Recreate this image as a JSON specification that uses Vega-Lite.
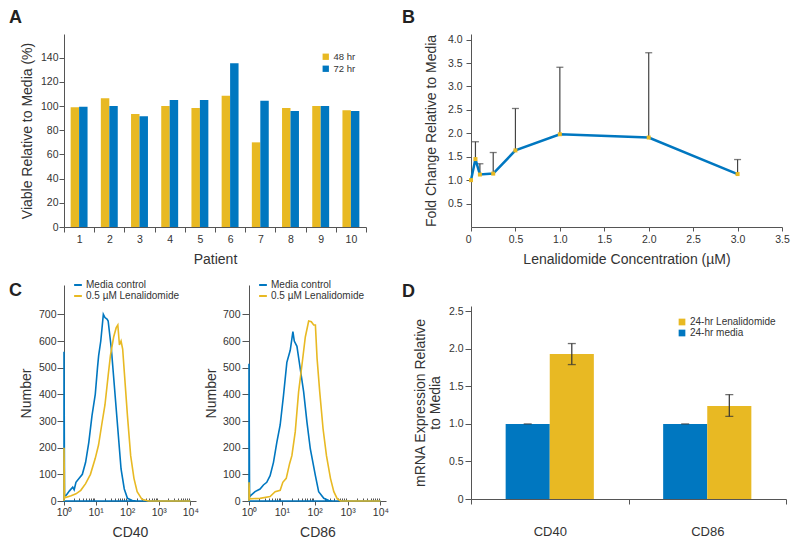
{
  "$schema": "https://vega.github.io/schema/vega-lite/v6.json",
  "background": "white",
  "padding": {"left": 9, "top": 9, "right": 2, "bottom": 2},
  "config": {
    "view": {"stroke": null},
    "axis": {
      "labelFont": "Liberation Sans", "labelFontSize": 10.5, "labelColor": "#333",
      "titleFont": "Liberation Sans", "titleFontSize": 14, "titleColor": "#333", "titleFontWeight": "normal",
      "domainColor": "#555", "tickColor": "#555", "grid": false, "labelFlush": false, "labelOverlap": false, "labelBound": false
    },
    "legend": {"labelFont": "Liberation Sans", "labelColor": "#333", "title": null, "padding": 0, "offset": 0},
    "title": {"font": "Liberation Sans", "fontSize": 18, "fontWeight": "bold", "color": "#222", "anchor": "start", "frame": "group"}
  },
  "spacing": 13,
  "resolve": {"scale": {"color": "independent"}, "legend": {"color": "independent"}},
  "hconcat": [
    {
      "spacing": 13,
      "resolve": {"scale": {"color": "independent"}, "legend": {"color": "independent"}},
      "vconcat": [
        {
          "width": 302, "height": 193,
          "title": {"text": "A", "dx": -55, "offset": 7},
          "data": {"values": [
            {"patient": 1, "time": "48 hr", "v": 99}, {"patient": 1, "time": "72 hr", "v": 99.5},
            {"patient": 2, "time": "48 hr", "v": 106.5}, {"patient": 2, "time": "72 hr", "v": 100},
            {"patient": 3, "time": "48 hr", "v": 93.5}, {"patient": 3, "time": "72 hr", "v": 91.5},
            {"patient": 4, "time": "48 hr", "v": 100}, {"patient": 4, "time": "72 hr", "v": 105},
            {"patient": 5, "time": "48 hr", "v": 98.5}, {"patient": 5, "time": "72 hr", "v": 105},
            {"patient": 6, "time": "48 hr", "v": 108.5}, {"patient": 6, "time": "72 hr", "v": 135.5},
            {"patient": 7, "time": "48 hr", "v": 70}, {"patient": 7, "time": "72 hr", "v": 104.5},
            {"patient": 8, "time": "48 hr", "v": 98.5}, {"patient": 8, "time": "72 hr", "v": 96},
            {"patient": 9, "time": "48 hr", "v": 100}, {"patient": 9, "time": "72 hr", "v": 100},
            {"patient": 10, "time": "48 hr", "v": 96.5}, {"patient": 10, "time": "72 hr", "v": 96}
          ]},
          "encoding": {
            "x": {"field": "patient", "type": "ordinal", "scale": {"paddingInner": 0, "paddingOuter": 0},
                  "axis": {"title": "Patient", "labelAngle": 0, "tickBand": "extent", "tickSize": 5, "labelPadding": 2, "titlePadding": 8}},
            "y": {"field": "v", "type": "quantitative", "scale": {"domain": [0, 159.6], "nice": false},
                  "axis": {"values": [0, 20, 40, 60, 80, 100, 120, 140], "title": "Viable Relative to Media (%)", "tickSize": 5, "labelPadding": 1, "titlePadding": 6, "labelOverlap": false}},
            "color": {"field": "time", "type": "nominal", "scale": {"domain": ["48 hr", "72 hr"], "range": ["#E8B923", "#0077C0"]},
                      "legend": {"orient": "none", "legendX": 257, "legendY": 18, "symbolType": "square", "symbolSize": 40, "symbolStrokeWidth": 0, "labelFontSize": 9.5, "rowPadding": 1, "labelOffset": 3}}
          },
          "layer": [
            {
              "transform": [{"filter": "datum.time == '48 hr'"}],
              "mark": {"type": "bar", "width": {"band": 0.28}, "xOffset": -4.23}
            },
            {
              "transform": [{"filter": "datum.time == '72 hr'"}],
              "mark": {"type": "bar", "width": {"band": 0.28}, "xOffset": 4.23}
            }
          ]
        },
        {
          "spacing": 5,
          "resolve": {"scale": {"color": "independent"}, "legend": {"color": "independent"}},
          "hconcat": [
            {
              "width": 132, "height": 216,
              "title": {"text": "C", "dx": -55, "offset": -20},
              "data": {"values": [
                {"series": "Media control", "i": 0, "x": 10000, "n": 0},
                {"series": "Media control", "i": 1, "x": 1, "n": 0},
                {"series": "Media control", "i": 2, "x": 1, "n": 560},
                {"series": "Media control", "i": 3, "x": 1.04, "n": 18},
                {"series": "Media control", "i": 4, "x": 1.18, "n": 22},
                {"series": "Media control", "i": 5, "x": 1.49, "n": 38},
                {"series": "Media control", "i": 6, "x": 1.89, "n": 52},
                {"series": "Media control", "i": 7, "x": 2.1, "n": 42},
                {"series": "Media control", "i": 8, "x": 2.39, "n": 70},
                {"series": "Media control", "i": 9, "x": 3.02, "n": 85},
                {"series": "Media control", "i": 10, "x": 3.81, "n": 100},
                {"series": "Media control", "i": 11, "x": 4.83, "n": 145},
                {"series": "Media control", "i": 12, "x": 6.1, "n": 220},
                {"series": "Media control", "i": 13, "x": 7.7, "n": 320},
                {"series": "Media control", "i": 14, "x": 9.77, "n": 400},
                {"series": "Media control", "i": 15, "x": 11.5, "n": 500},
                {"series": "Media control", "i": 16, "x": 12.5, "n": 545},
                {"series": "Media control", "i": 17, "x": 14.6, "n": 600},
                {"series": "Media control", "i": 18, "x": 17.6, "n": 700},
                {"series": "Media control", "i": 19, "x": 19.8, "n": 688},
                {"series": "Media control", "i": 20, "x": 23, "n": 682},
                {"series": "Media control", "i": 21, "x": 25, "n": 675},
                {"series": "Media control", "i": 22, "x": 31.6, "n": 570},
                {"series": "Media control", "i": 23, "x": 40, "n": 420},
                {"series": "Media control", "i": 24, "x": 50.6, "n": 270},
                {"series": "Media control", "i": 25, "x": 64, "n": 120},
                {"series": "Media control", "i": 26, "x": 81, "n": 45},
                {"series": "Media control", "i": 27, "x": 102, "n": 10},
                {"series": "Media control", "i": 28, "x": 145, "n": 2},
                {"series": "Media control", "i": 29, "x": 200, "n": 0},
                {"series": "0.5 µM Lenalidomide", "i": 0, "x": 1, "n": 0},
                {"series": "0.5 µM Lenalidomide", "i": 1, "x": 1, "n": 200},
                {"series": "0.5 µM Lenalidomide", "i": 2, "x": 1.04, "n": 12},
                {"series": "0.5 µM Lenalidomide", "i": 3, "x": 1.68, "n": 20},
                {"series": "0.5 µM Lenalidomide", "i": 4, "x": 2.39, "n": 27},
                {"series": "0.5 µM Lenalidomide", "i": 5, "x": 3.4, "n": 40},
                {"series": "0.5 µM Lenalidomide", "i": 6, "x": 4.83, "n": 65},
                {"series": "0.5 µM Lenalidomide", "i": 7, "x": 6.87, "n": 100},
                {"series": "0.5 µM Lenalidomide", "i": 8, "x": 9.77, "n": 160},
                {"series": "0.5 µM Lenalidomide", "i": 9, "x": 12.4, "n": 210},
                {"series": "0.5 µM Lenalidomide", "i": 10, "x": 15.6, "n": 285},
                {"series": "0.5 µM Lenalidomide", "i": 11, "x": 19.8, "n": 360},
                {"series": "0.5 µM Lenalidomide", "i": 12, "x": 25, "n": 470},
                {"series": "0.5 µM Lenalidomide", "i": 13, "x": 29.5, "n": 545},
                {"series": "0.5 µM Lenalidomide", "i": 14, "x": 37.3, "n": 615},
                {"series": "0.5 µM Lenalidomide", "i": 15, "x": 45, "n": 650},
                {"series": "0.5 µM Lenalidomide", "i": 16, "x": 50.6, "n": 660},
                {"series": "0.5 µM Lenalidomide", "i": 17, "x": 56.9, "n": 585},
                {"series": "0.5 µM Lenalidomide", "i": 18, "x": 64, "n": 600},
                {"series": "0.5 µM Lenalidomide", "i": 19, "x": 72, "n": 570},
                {"series": "0.5 µM Lenalidomide", "i": 20, "x": 81, "n": 485},
                {"series": "0.5 µM Lenalidomide", "i": 21, "x": 102, "n": 320},
                {"series": "0.5 µM Lenalidomide", "i": 22, "x": 129, "n": 170},
                {"series": "0.5 µM Lenalidomide", "i": 23, "x": 164, "n": 85},
                {"series": "0.5 µM Lenalidomide", "i": 24, "x": 207, "n": 35},
                {"series": "0.5 µM Lenalidomide", "i": 25, "x": 294, "n": 6},
                {"series": "0.5 µM Lenalidomide", "i": 26, "x": 471, "n": 0},
                {"series": "0.5 µM Lenalidomide", "i": 27, "x": 10000, "n": 0}
              ]},
              "mark": {"type": "line", "strokeWidth": 1.6},
              "encoding": {
                "x": {"field": "x", "type": "quantitative", "scale": {"type": "log", "domain": [1, 15100], "nice": false},
                      "axis": {"values": [1, 2, 3, 4, 5, 6, 7, 8, 9, 10, 20, 30, 40, 50, 60, 70, 80, 90, 100, 200, 300, 400, 500, 600, 700, 800, 900, 1000, 2000, 3000, 4000, 5000, 6000, 7000, 8000, 9000, 10000],
                               "labelExpr": "datum.value == 1 ? '10⁰' : datum.value == 10 ? '10¹' : datum.value == 100 ? '10²' : datum.value == 1000 ? '10³' : datum.value == 10000 ? '10⁴' : ''",
                               "tickSize": {"condition": {"test": "indexof([1, 10, 100, 1000, 10000], datum.value) >= 0", "value": 4}, "value": -3},
                               "title": "CD40", "labelPadding": 2, "titlePadding": 8, "labelOverlap": false}},
                "y": {"field": "n", "type": "quantitative", "scale": {"domain": [0, 810], "nice": false},
                      "axis": {"values": [0, 100, 200, 300, 400, 500, 600, 700], "title": "Number", "tickSize": 7, "labelPadding": 1, "titlePadding": 5, "labelOverlap": false}},
                "color": {"field": "series", "type": "nominal", "scale": {"domain": ["Media control", "0.5 µM Lenalidomide"], "range": ["#0077C0", "#E8B923"]},
                          "legend": {"orient": "none", "legendX": 9, "legendY": -5, "symbolType": "stroke", "symbolSize": 60, "symbolStrokeWidth": 2, "labelFontSize": 10, "rowPadding": 1, "labelOffset": 3}},
                "order": {"field": "i", "type": "quantitative"}
              }
            },
            {
              "width": 137, "height": 216,
              "data": {"values": [
                {"series": "Media control", "i": 0, "x": 10000, "n": 0},
                {"series": "Media control", "i": 1, "x": 1, "n": 0},
                {"series": "Media control", "i": 2, "x": 1, "n": 515},
                {"series": "Media control", "i": 3, "x": 1.04, "n": 15},
                {"series": "Media control", "i": 4, "x": 1.12, "n": 20},
                {"series": "Media control", "i": 5, "x": 1.53, "n": 35},
                {"series": "Media control", "i": 6, "x": 2.17, "n": 45},
                {"series": "Media control", "i": 7, "x": 2.75, "n": 60},
                {"series": "Media control", "i": 8, "x": 3.47, "n": 70},
                {"series": "Media control", "i": 9, "x": 4.39, "n": 95},
                {"series": "Media control", "i": 10, "x": 5.56, "n": 145},
                {"series": "Media control", "i": 11, "x": 7.03, "n": 220},
                {"series": "Media control", "i": 12, "x": 8.89, "n": 285},
                {"series": "Media control", "i": 13, "x": 11.2, "n": 395},
                {"series": "Media control", "i": 14, "x": 14.2, "n": 520},
                {"series": "Media control", "i": 15, "x": 18, "n": 565},
                {"series": "Media control", "i": 16, "x": 21.7, "n": 635},
                {"series": "Media control", "i": 17, "x": 23.9, "n": 600},
                {"series": "Media control", "i": 18, "x": 28.8, "n": 580},
                {"series": "Media control", "i": 19, "x": 36.4, "n": 495},
                {"series": "Media control", "i": 20, "x": 46, "n": 410},
                {"series": "Media control", "i": 21, "x": 58.2, "n": 295},
                {"series": "Media control", "i": 22, "x": 73.6, "n": 195},
                {"series": "Media control", "i": 23, "x": 105, "n": 95},
                {"series": "Media control", "i": 24, "x": 132, "n": 35},
                {"series": "Media control", "i": 25, "x": 189, "n": 10},
                {"series": "Media control", "i": 26, "x": 268, "n": 2},
                {"series": "Media control", "i": 27, "x": 350, "n": 0},
                {"series": "0.5 µM Lenalidomide", "i": 0, "x": 1, "n": 0},
                {"series": "0.5 µM Lenalidomide", "i": 1, "x": 1, "n": 70},
                {"series": "0.5 µM Lenalidomide", "i": 2, "x": 1.04, "n": 8},
                {"series": "0.5 µM Lenalidomide", "i": 3, "x": 2.17, "n": 10},
                {"series": "0.5 µM Lenalidomide", "i": 4, "x": 4.39, "n": 17},
                {"series": "0.5 µM Lenalidomide", "i": 5, "x": 6.25, "n": 35},
                {"series": "0.5 µM Lenalidomide", "i": 6, "x": 8.89, "n": 40},
                {"series": "0.5 µM Lenalidomide", "i": 7, "x": 10.7, "n": 70},
                {"series": "0.5 µM Lenalidomide", "i": 8, "x": 13.6, "n": 85},
                {"series": "0.5 µM Lenalidomide", "i": 9, "x": 17.2, "n": 140},
                {"series": "0.5 µM Lenalidomide", "i": 10, "x": 20.2, "n": 170},
                {"series": "0.5 µM Lenalidomide", "i": 11, "x": 25.6, "n": 260},
                {"series": "0.5 µM Lenalidomide", "i": 12, "x": 32.4, "n": 410},
                {"series": "0.5 µM Lenalidomide", "i": 13, "x": 40.9, "n": 510},
                {"series": "0.5 µM Lenalidomide", "i": 14, "x": 51.8, "n": 615},
                {"series": "0.5 µM Lenalidomide", "i": 15, "x": 65.5, "n": 675},
                {"series": "0.5 µM Lenalidomide", "i": 16, "x": 79, "n": 672},
                {"series": "0.5 µM Lenalidomide", "i": 17, "x": 93.1, "n": 660},
                {"series": "0.5 µM Lenalidomide", "i": 18, "x": 105, "n": 660},
                {"series": "0.5 µM Lenalidomide", "i": 19, "x": 118, "n": 535},
                {"series": "0.5 µM Lenalidomide", "i": 20, "x": 142, "n": 410},
                {"series": "0.5 µM Lenalidomide", "i": 21, "x": 180, "n": 270},
                {"series": "0.5 µM Lenalidomide", "i": 22, "x": 228, "n": 170},
                {"series": "0.5 µM Lenalidomide", "i": 23, "x": 302, "n": 85},
                {"series": "0.5 µM Lenalidomide", "i": 24, "x": 382, "n": 35},
                {"series": "0.5 µM Lenalidomide", "i": 25, "x": 483, "n": 9},
                {"series": "0.5 µM Lenalidomide", "i": 26, "x": 611, "n": 0},
                {"series": "0.5 µM Lenalidomide", "i": 27, "x": 10000, "n": 0}
              ]},
              "mark": {"type": "line", "strokeWidth": 1.6},
              "encoding": {
                "x": {"field": "x", "type": "quantitative", "scale": {"type": "log", "domain": [1, 14800], "nice": false},
                      "axis": {"values": [1, 2, 3, 4, 5, 6, 7, 8, 9, 10, 20, 30, 40, 50, 60, 70, 80, 90, 100, 200, 300, 400, 500, 600, 700, 800, 900, 1000, 2000, 3000, 4000, 5000, 6000, 7000, 8000, 9000, 10000],
                               "labelExpr": "datum.value == 1 ? '10⁰' : datum.value == 10 ? '10¹' : datum.value == 100 ? '10²' : datum.value == 1000 ? '10³' : datum.value == 10000 ? '10⁴' : ''",
                               "tickSize": {"condition": {"test": "indexof([1, 10, 100, 1000, 10000], datum.value) >= 0", "value": 4}, "value": -3},
                               "title": "CD86", "labelPadding": 2, "titlePadding": 8, "labelOverlap": false}},
                "y": {"field": "n", "type": "quantitative", "scale": {"domain": [0, 810], "nice": false},
                      "axis": {"values": [0, 100, 200, 300, 400, 500, 600, 700], "title": "Number", "tickSize": 7, "labelPadding": 2, "titlePadding": 4, "labelOverlap": false}},
                "color": {"field": "series", "type": "nominal", "scale": {"domain": ["Media control", "0.5 µM Lenalidomide"], "range": ["#0077C0", "#E8B923"]},
                          "legend": {"orient": "none", "legendX": 9, "legendY": -5, "symbolType": "stroke", "symbolSize": 60, "symbolStrokeWidth": 2, "labelFontSize": 10, "rowPadding": 1, "labelOffset": 3}},
                "order": {"field": "i", "type": "quantitative"}
              }
            }
          ]
        }
      ]
    },
    {
      "spacing": 16,
      "resolve": {"scale": {"color": "independent"}, "legend": {"color": "independent"}},
      "vconcat": [
        {
          "width": 311, "height": 193,
          "title": {"text": "B", "dx": -69, "offset": 7},
          "data": {"values": [
            {"c": 0, "f": 1.0, "u": null},
            {"c": 0.05, "f": 1.45, "u": 1.82},
            {"c": 0.1, "f": 1.12, "u": 1.35},
            {"c": 0.25, "f": 1.14, "u": 1.59},
            {"c": 0.5, "f": 1.635, "u": 2.53},
            {"c": 1, "f": 1.98, "u": 3.41},
            {"c": 2, "f": 1.91, "u": 3.72},
            {"c": 3, "f": 1.13, "u": 1.44}
          ]},
          "encoding": {
            "x": {"field": "c", "type": "quantitative", "scale": {"domain": [0, 3.5], "nice": false},
                  "axis": {"values": [0, 0.5, 1, 1.5, 2, 2.5, 3, 3.5], "labelExpr": "datum.value == 0 ? '0' : format(datum.value, '.1f')",
                           "labelAlign": {"condition": {"test": "datum.value == 0", "value": "right"}, "value": "center"},
                           "title": "Lenalidomide Concentration (µM)", "tickSize": 4, "labelPadding": 3, "titlePadding": 8, "labelOverlap": false}},
            "y": {"field": "f", "type": "quantitative", "scale": {"domain": [0, 4.12], "nice": false},
                  "axis": {"values": [0.5, 1, 1.5, 2, 2.5, 3, 3.5, 4], "labelExpr": "format(datum.value, '.1f')", "title": "Fold Change Relative to Media", "tickSize": 5, "labelPadding": 4, "titlePadding": 9, "labelOverlap": false}}
          },
          "layer": [
            {
              "transform": [{"filter": "datum.u != null"}],
              "mark": {"type": "rule", "color": "#444", "strokeWidth": 1.2},
              "encoding": {"y2": {"field": "u"}}
            },
            {
              "transform": [{"filter": "datum.u != null"}],
              "mark": {"type": "tick", "orient": "horizontal", "color": "#444", "size": 7, "thickness": 1.3},
              "encoding": {"y": {"field": "u", "type": "quantitative", "scale": {"domain": [0, 4.12], "nice": false},
                  "axis": {"values": [0.5, 1, 1.5, 2, 2.5, 3, 3.5, 4], "labelExpr": "format(datum.value, '.1f')", "title": "Fold Change Relative to Media", "tickSize": 5, "labelPadding": 4, "titlePadding": 9, "labelOverlap": false}}}
            },
            {
              "mark": {"type": "line", "color": "#0077C0", "strokeWidth": 2.5}
            },
            {
              "mark": {"type": "point", "filled": true, "shape": "square", "size": 16, "color": "#E8B923", "opacity": 1}
            }
          ]
        },
        {
          "width": 315, "height": 193,
          "title": {"text": "D", "dx": -69, "offset": 5},
          "data": {"values": [
            {"gene": "CD40", "trt": "24-hr media", "v": 1.0, "lo": 1.0, "hi": 1.0},
            {"gene": "CD40", "trt": "24-hr Lenalidomide", "v": 1.93, "lo": 1.79, "hi": 2.07},
            {"gene": "CD86", "trt": "24-hr media", "v": 1.0, "lo": 1.0, "hi": 1.0},
            {"gene": "CD86", "trt": "24-hr Lenalidomide", "v": 1.24, "lo": 1.10, "hi": 1.39}
          ]},
          "encoding": {
            "x": {"field": "gene", "type": "nominal", "scale": {"paddingInner": 0, "paddingOuter": 0},
                  "axis": {"title": null, "labelAngle": 0, "tickBand": "extent", "tickSize": 5, "labelPadding": 21, "labelFontSize": 13}},
            "y": {"field": "v", "type": "quantitative", "scale": {"domain": [0, 2.57], "nice": false},
                  "axis": {"values": [0, 0.5, 1, 1.5, 2, 2.5], "labelExpr": "datum.value == 0 ? '0' : format(datum.value, '.1f')",
                           "title": ["mRNA Expression Relative", "to Media"], "titleLineHeight": 15, "tickSize": 6, "labelPadding": 2, "titlePadding": 6, "labelOverlap": false}}
          },
          "layer": [
            {
              "transform": [{"filter": "datum.trt == '24-hr media'"}],
              "mark": {"type": "bar", "width": {"band": 0.28}, "xOffset": -22.05},
              "encoding": {
                "color": {"field": "trt", "type": "nominal", "scale": {"domain": ["24-hr Lenalidomide", "24-hr media"], "range": ["#E8B923", "#0077C0"]},
                          "legend": {"orient": "none", "legendX": 206, "legendY": 11, "symbolType": "square", "symbolSize": 45, "symbolStrokeWidth": 0, "labelFontSize": 10, "rowPadding": 1, "labelOffset": 3}}
              }
            },
            {
              "transform": [{"filter": "datum.trt == '24-hr Lenalidomide'"}],
              "mark": {"type": "bar", "width": {"band": 0.28}, "xOffset": 22.05},
              "encoding": {"color": {"field": "trt", "type": "nominal"}}
            },
            {
              "transform": [{"filter": "datum.trt == '24-hr Lenalidomide'"}],
              "mark": {"type": "rule", "color": "#333", "strokeWidth": 1.2, "xOffset": 22.05},
              "encoding": {"y": {"field": "lo", "type": "quantitative"}, "y2": {"field": "hi"}}
            },
            {
              "transform": [{"filter": "datum.trt == '24-hr Lenalidomide'"}],
              "mark": {"type": "tick", "orient": "horizontal", "color": "#333", "size": 8, "thickness": 1.3, "xOffset": 22.05},
              "encoding": {"y": {"field": "lo", "type": "quantitative"}}
            },
            {
              "transform": [{"filter": "datum.trt == '24-hr Lenalidomide'"}],
              "mark": {"type": "tick", "orient": "horizontal", "color": "#333", "size": 8, "thickness": 1.3, "xOffset": 22.05},
              "encoding": {"y": {"field": "hi", "type": "quantitative"}}
            },
            {
              "transform": [{"filter": "datum.trt == '24-hr media'"}],
              "mark": {"type": "tick", "orient": "horizontal", "color": "#333", "size": 8, "thickness": 1.3, "xOffset": -22.05},
              "encoding": {"y": {"field": "hi", "type": "quantitative"}}
            }
          ]
        }
      ]
    }
  ]
}
